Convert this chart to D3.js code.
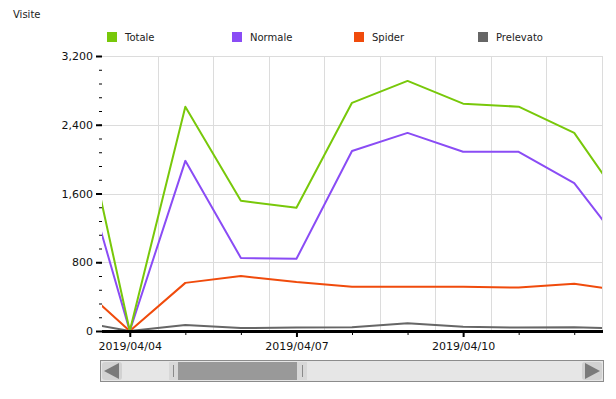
<!DOCTYPE html>
<html>
<head>
<meta charset="utf-8">
<script src="https://cdn.jsdelivr.net/npm/d3@7"></script>
<style>
  body { margin: 0; background: #fff; }
  svg { display: block; font-family: "DejaVu Sans", Verdana, sans-serif; }
</style>
</head>
<body>
<svg width="616" height="399"></svg>
<script>
var days = ["2019/04/03", "2019/04/04", "2019/04/05", "2019/04/06", "2019/04/07", "2019/04/08",
            "2019/04/09", "2019/04/10", "2019/04/11", "2019/04/12", "2019/04/13"];
var totale    = [2950, 0, 2610, 1515, 1435, 2655, 2910, 2645, 2610, 2305, 1380];
var normale   = [2240, 0, 1980,  850,  840, 2095, 2305, 2085, 2085, 1720,  885];
var spider    = [ 585, 0,  560,  640,  570,  515,  515,  515,  505,  550,  455];
var prelevato = [ 115, 0,   70,   35,   40,   45,   90,   50,   40,   45,   25];

var seriesNames  = ["Totale", "Normale", "Spider", "Prelevato"];
var seriesColors = ["#78c80a", "#8a4cf5", "#f04b0c", "#666666"];
var yTicks = [0, 800, 1600, 2400, 3200];
var viewStart = "2019/04/03 12:00", viewEnd = "2019/04/12 12:00";

var svg = d3.select("svg");
var parseDay = d3.timeParse("%Y/%m/%d");
var parseTime = d3.timeParse("%Y/%m/%d %H:%M");
var dates = days.map(parseDay);

// plot box (note: "top" is reserved on window, so use px*)
var pxL = 102, pxR = 602, pxT = 56, pxB = 331;

var x = d3.scaleTime()
    .domain([parseTime(viewStart), parseTime(viewEnd)])
    .range([pxL, pxR]);
var y = d3.scaleLinear().domain([0, 3200]).range([pxB, pxT]);

svg.append("text").attr("x", 13).attr("y", 18)
    .attr("font-size", 10).attr("fill", "#222").text("Visite");

// legend
var legendX = [107, 232, 354, 478];
var legend = svg.selectAll("g.legend").data(seriesNames).enter().append("g")
    .attr("class", "legend")
    .attr("transform", function(d, i) { return "translate(" + legendX[i] + ",32)"; });
legend.append("rect").attr("width", 10).attr("height", 10)
    .attr("fill", function(d, i) { return seriesColors[i]; });
legend.append("text").attr("x", 18).attr("y", 9).attr("font-size", 10)
    .attr("fill", "#222").text(function(d) { return d; });

// grid
var midDays = d3.timeDay.range(parseTime("2019/04/04 00:00"), parseTime("2019/04/13 00:00"))
    .map(function(d) { return d3.timeHour.offset(d, 12); });
svg.append("g").selectAll("line").data(midDays).enter().append("line")
    .attr("x1", function(d) { return Math.round(x(d)) + 0.5; })
    .attr("x2", function(d) { return Math.round(x(d)) + 0.5; })
    .attr("y1", pxT).attr("y2", pxB)
    .attr("stroke", "#dcdcdc");
svg.append("g").selectAll("line").data(yTicks.slice(1)).enter().append("line")
    .attr("x1", pxL).attr("x2", pxR)
    .attr("y1", function(d) { return Math.round(y(d)) + 0.5; })
    .attr("y2", function(d) { return Math.round(y(d)) + 0.5; })
    .attr("stroke", "#dcdcdc");

// y axis
var yMinor = svg.append("g").attr("transform", "translate(" + pxL + ",0)")
    .call(d3.axisLeft(y).tickValues(d3.range(0, 3201, 160)).tickSize(3).tickFormat(""));
yMinor.select(".domain").remove();
yMinor.selectAll(".tick line").attr("stroke", "#000");
var yMajor = svg.append("g").attr("transform", "translate(" + pxL + ",0)")
    .call(d3.axisLeft(y).tickValues(yTicks).tickSize(6).tickPadding(3).tickFormat(d3.format(",")));
yMajor.select(".domain").remove();
yMajor.selectAll(".tick line").attr("stroke", "#000").attr("stroke-width", 2);
yMajor.selectAll("text").attr("font-size", 11).attr("font-family", "DejaVu Sans").attr("fill", "#111");

// lines
svg.append("clipPath").attr("id", "clip").append("rect")
    .attr("x", pxL).attr("y", pxT - 5).attr("width", pxR - pxL).attr("height", pxB - pxT + 10);
var line = d3.line().x(function(d, i) { return x(dates[i]); }).y(function(d) { return y(d); });
var allSeries = [totale, normale, spider, prelevato];
svg.append("g").attr("clip-path", "url(#clip)")
  .selectAll("path").data(allSeries.slice().reverse()).enter().append("path")
    .attr("d", line)
    .attr("fill", "none")
    .attr("stroke-width", 2)
    .attr("stroke-linejoin", "round")
    .attr("stroke", function(d, i) { return seriesColors[3 - i]; });

// x axis
var inView = dates.filter(function(d) { return d >= x.domain()[0] && d <= x.domain()[1]; });
var majorDays = [parseDay("2019/04/04"), parseDay("2019/04/07"), parseDay("2019/04/10")];
var xMinor = svg.append("g").attr("transform", "translate(0," + pxB + ")")
    .call(d3.axisBottom(x).tickValues(inView).tickSize(4).tickFormat(""));
xMinor.select(".domain").remove();
xMinor.selectAll(".tick line").attr("stroke", "#000");
var xMajor = svg.append("g").attr("transform", "translate(0," + pxB + ")")
    .call(d3.axisBottom(x).tickValues(majorDays).tickSize(6).tickPadding(5)
      .tickFormat(d3.timeFormat("%Y/%m/%d")));
xMajor.select(".domain").remove();
xMajor.selectAll(".tick line").attr("stroke", "#000").attr("stroke-width", 2);
xMajor.selectAll("text").attr("font-size", 11).attr("font-family", "DejaVu Sans").attr("fill", "#111");
svg.append("line").attr("x1", pxL).attr("x2", pxR + 1).attr("y1", pxB + 0.5).attr("y2", pxB + 0.5)
    .attr("stroke", "#000").attr("stroke-width", 3);

// scrollbar
var sb = svg.append("g");
sb.append("rect").attr("x", 100.5).attr("y", 360.5).attr("width", 503).attr("height", 21)
    .attr("fill", "#e6e6e6").attr("stroke", "#8c8c8c");
sb.append("rect").attr("x", 102).attr("y", 362).attr("width", 20).attr("height", 18).attr("rx", 3).attr("fill", "#d2d2d2");
sb.append("path").attr("d", "M104,371L119,363L119,379Z").attr("fill", "#7a7a7a");
sb.append("rect").attr("x", 582).attr("y", 362).attr("width", 20).attr("height", 18).attr("rx", 3).attr("fill", "#d2d2d2");
sb.append("path").attr("d", "M600,371L585,363L585,379Z").attr("fill", "#7a7a7a");
sb.append("rect").attr("x", 169).attr("y", 362).attr("width", 9).attr("height", 18).attr("fill", "#d8d8d8");
sb.append("rect").attr("x", 297).attr("y", 362).attr("width", 10).attr("height", 18).attr("fill", "#d8d8d8");
sb.append("rect").attr("x", 178).attr("y", 362).attr("width", 119).attr("height", 18).attr("fill", "#999999");
sb.append("line").attr("x1", 173.5).attr("x2", 173.5).attr("y1", 365).attr("y2", 377).attr("stroke", "#8a8a8a");
sb.append("line").attr("x1", 302.5).attr("x2", 302.5).attr("y1", 365).attr("y2", 377).attr("stroke", "#8a8a8a");
</script>
</body>
</html>
